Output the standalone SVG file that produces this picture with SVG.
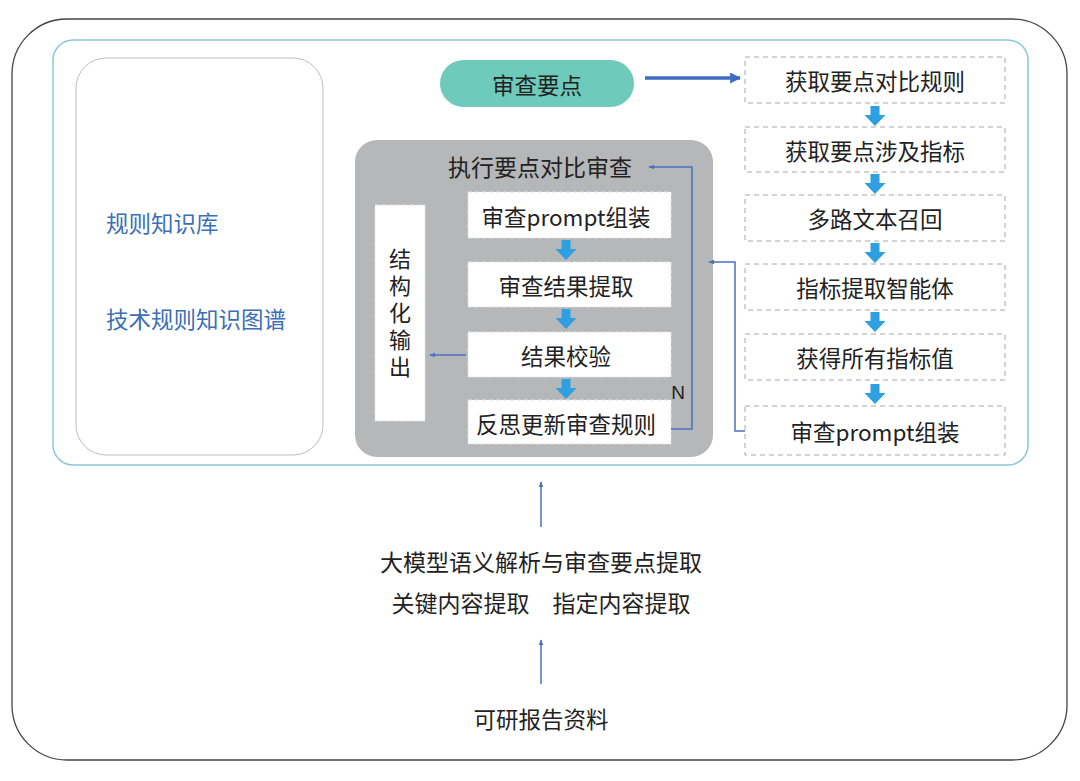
<svg xmlns="http://www.w3.org/2000/svg" width="1080" height="781" viewBox="0 0 1080 781">
<style>
text{font-family:"Noto Sans CJK SC","Liberation Sans",sans-serif;font-size:22.5px;fill:#222;text-anchor:middle;dominant-baseline:central}
.blue{fill:#3b6fb6;text-anchor:start}
.dbox{fill:#fff;stroke:#a8a8a8;stroke-width:1;stroke-dasharray:5 4}
.wbox{fill:#fff;stroke:#e2e2e2;stroke-width:1;stroke-dasharray:4 3}
.blk{fill:#2e9fe0}
.ln{fill:none;stroke:#4a72c4;stroke-width:1.5}
</style>
<defs>
<marker id="ah" viewBox="0 0 10 10" refX="9" refY="5" markerWidth="6" markerHeight="6" orient="auto" markerUnits="userSpaceOnUse"><path d="M0 1 L10 5 L0 9 z" fill="#4a72c4"/></marker>
<marker id="ah2" viewBox="0 0 10 10" refX="9" refY="5" markerWidth="11" markerHeight="11" orient="auto" markerUnits="userSpaceOnUse"><path d="M0 0 L10 5 L0 10 z" fill="#3d6cc0"/></marker>
<path id="ba" d="M-4.5 0 h9 v9 h6 l-10.5 11 l-10.5 -11 h6 z"/>
</defs>
<rect width="1080" height="781" fill="#fff"/>
<g id="outer"><rect x="12" y="19" width="1055" height="741" rx="55" fill="#fff" stroke="#444" stroke-width="1.3"/></g>
<g id="panel"><rect x="53" y="40" width="975" height="425" rx="20" fill="#fff" stroke="#8cc8d8" stroke-width="1.5"/></g>
<g id="kb">
<rect x="76" y="58" width="247" height="397" rx="30" fill="#fff" stroke="#bdbdbd" stroke-width="1"/>
<text class="blue" x="106" y="222">规则知识库</text>
<text class="blue" x="106" y="318">技术规则知识图谱</text>
</g>
<g id="point"><rect x="440" y="60" width="194" height="47" rx="23.5" fill="#6ecbbc"/><text x="537" y="84">审查要点</text></g>
<g id="r1"><rect class="dbox" x="745" y="57" width="260" height="46"/><text x="875" y="80">获取要点对比规则</text></g>
<g id="r2"><rect class="dbox" x="745" y="127" width="260" height="45"/><text x="875" y="150">获取要点涉及指标</text></g>
<g id="r3"><rect class="dbox" x="745" y="195" width="260" height="46"/><text x="875" y="218">多路文本召回</text></g>
<g id="r4"><rect class="dbox" x="745" y="264" width="260" height="46"/><text x="875" y="287">指标提取智能体</text></g>
<g id="r5"><rect class="dbox" x="745" y="334" width="260" height="46"/><text x="875" y="357">获得所有指标值</text></g>
<g id="r6"><rect class="dbox" x="745" y="406" width="260" height="49"/><text x="875" y="431">审查prompt组装</text></g>
<g id="exec">
<rect x="355" y="140" width="358" height="317" rx="22" fill="#b6b7b8"/>
<text x="540" y="166" style="font-size:23px">执行要点对比审查</text>
</g>
<g id="i1"><rect class="wbox" x="468" y="192" width="203" height="46"/><text x="566" y="216">审查prompt组装</text></g>
<g id="i2"><rect class="wbox" x="468" y="262" width="203" height="45"/><text x="566" y="285">审查结果提取</text></g>
<g id="i3"><rect class="wbox" x="468" y="332" width="203" height="45"/><text x="566" y="355">结果校验</text></g>
<g id="i4"><rect class="wbox" x="468" y="400" width="203" height="44"/><text x="566" y="423">反思更新审查规则</text></g>
<g id="out">
<rect class="wbox" x="375" y="205" width="50" height="216"/>
<text x="400" y="315" style="writing-mode:vertical-rl;letter-spacing:5px;font-size:22px">结构化输出</text>
</g>
<g id="t1"><text x="541" y="561" style="font-size:23px">大模型语义解析与审查要点提取</text></g>
<g id="t2"><text x="541" y="602" style="font-size:23px">关键内容提取　指定内容提取</text></g>
<g id="t3"><text x="541" y="718">可研报告资料</text></g>
<g id="connectors">
<path d="M645 78 H740" stroke="#3d6cc0" stroke-width="3.5" fill="none" marker-end="url(#ah2)"/>
<use href="#ba" class="blk" x="875" y="106"/>
<use href="#ba" class="blk" x="875" y="174"/>
<use href="#ba" class="blk" x="875" y="243"/>
<use href="#ba" class="blk" x="875" y="312"/>
<use href="#ba" class="blk" x="875" y="384"/>
<use href="#ba" class="blk" x="566" y="240"/>
<use href="#ba" class="blk" x="566" y="309"/>
<use href="#ba" class="blk" x="566" y="379"/>
<path class="ln" d="M671 429 H692 V167 H649" marker-end="url(#ah)"/>
<path class="ln" d="M745 431 H735 V262 H709" marker-end="url(#ah)"/>
<path class="ln" d="M466 355 H430" marker-end="url(#ah)"/>
<path class="ln" d="M541 527 V482" marker-end="url(#ah)"/>
<path class="ln" d="M541 684 V640" marker-end="url(#ah)"/>
<text x="678" y="392" style="font-family:'Liberation Sans',sans-serif;font-size:19px">N</text>
</g>
</svg>
